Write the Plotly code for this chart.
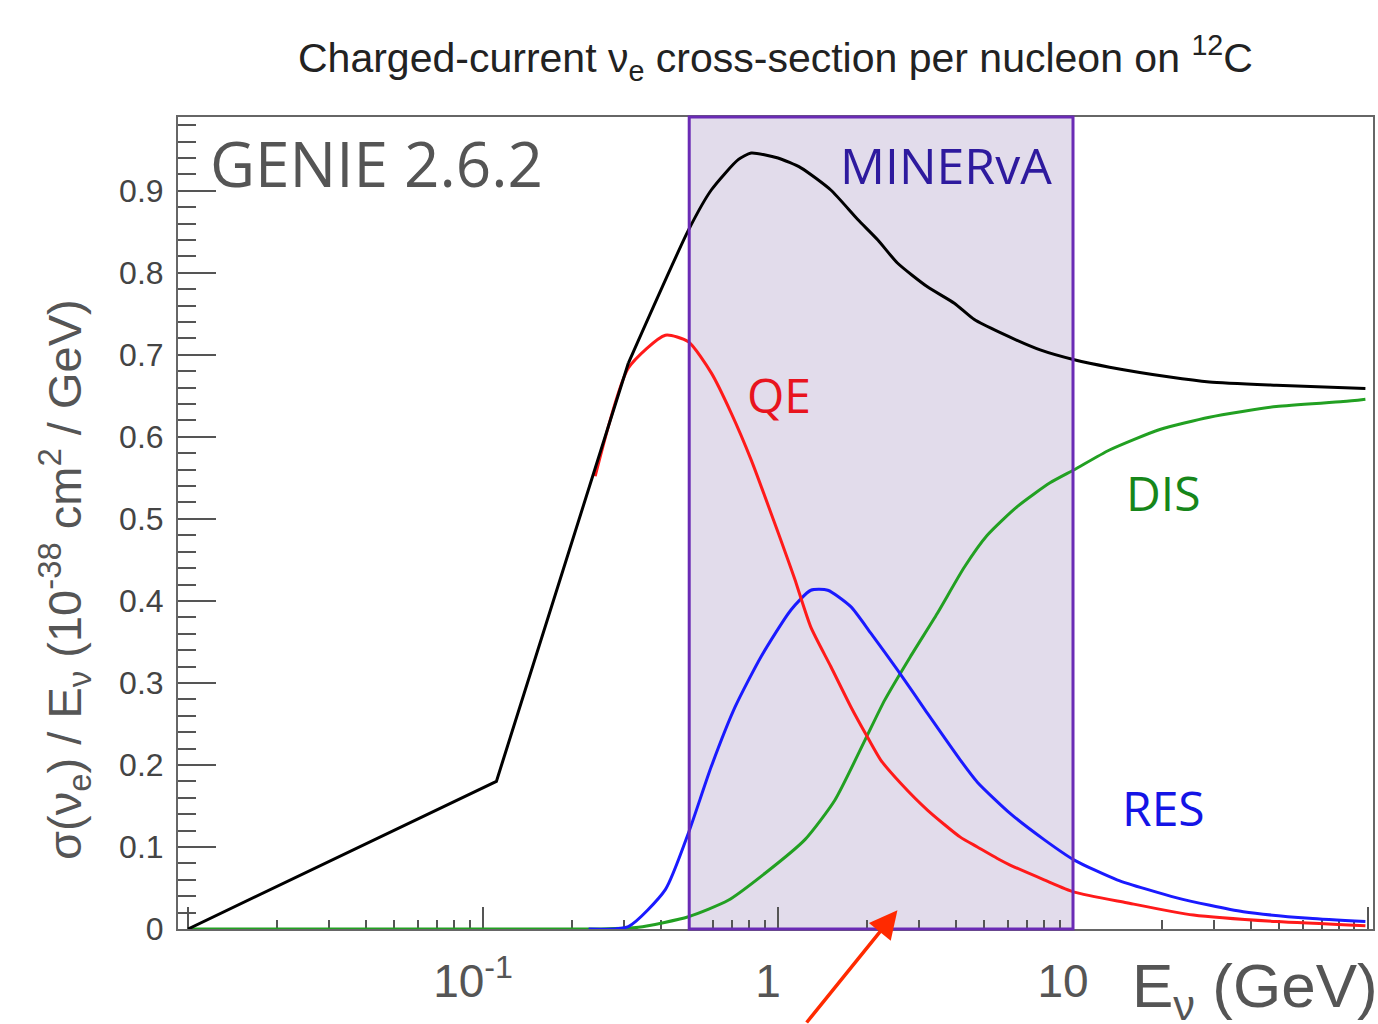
import math
import plotly.graph_objects as go

# ---------------- data ----------------
E_total = [0.01, 0.111, 0.311, 0.497, 0.594, 0.733, 0.811, 1.0, 1.196, 1.51, 1.864,
           2.18, 2.54, 3.21, 3.96, 4.63, 5.67, 7.74, 10.1, 13.3, 21.3, 29.0, 48.9, 98.0]
xs_total = [0.0, 0.180, 0.690, 0.852, 0.901, 0.938, 0.946, 0.940, 0.928, 0.901, 0.865,
            0.840, 0.812, 0.783, 0.763, 0.743, 0.727, 0.706, 0.694, 0.685, 0.673, 0.667, 0.663, 0.659]

E_qe = [0.24, 0.311, 0.415, 0.497, 0.594, 0.694, 0.811, 0.947, 1.081, 1.141, 1.292, 1.51,
        1.765, 2.01, 2.23, 2.60, 3.21, 4.15, 4.74, 5.54, 6.12, 7.98, 10.1, 15.2, 25.6, 48.9, 98.0]
xs_qe = [0.552, 0.684, 0.724, 0.716, 0.678, 0.629, 0.572, 0.507, 0.450, 0.426, 0.368, 0.320,
         0.271, 0.234, 0.206, 0.178, 0.145, 0.112, 0.100, 0.086, 0.078, 0.060, 0.045, 0.032, 0.017, 0.009, 0.004]

E_res = [0.228, 0.311, 0.415, 0.497, 0.594, 0.716, 0.876, 1.106, 1.292, 1.475, 1.765, 2.06,
         2.54, 3.21, 4.15, 4.74, 6.12, 7.98, 10.1, 14.1, 22.5, 37.8, 63.2, 98.0]
xs_res = [0.0, 0.003, 0.048, 0.117, 0.198, 0.271, 0.332, 0.389, 0.413, 0.413, 0.393, 0.361,
          0.316, 0.263, 0.206, 0.179, 0.141, 0.109, 0.084, 0.060, 0.038, 0.021, 0.013, 0.009]

E_dis = [0.01, 0.25, 0.336, 0.497, 0.678, 0.904, 1.234, 1.558, 1.97, 2.30, 2.81, 3.47, 4.28,
         5.12, 6.47, 8.36, 10.1, 13.3, 19.7, 29.0, 48.9, 82.4, 98.0]
xs_dis = [0.0, 0.0, 0.002, 0.015, 0.035, 0.068, 0.109, 0.157, 0.230, 0.279, 0.332, 0.385, 0.441,
          0.480, 0.515, 0.544, 0.560, 0.584, 0.609, 0.624, 0.637, 0.643, 0.646]

minerva_range = [0.5, 10.0]
arrow_tip = [2.54, 0.023]

x_major_vals = [0.01, 0.1, 1, 10, 100]
x_major_text = [" ", "10<sup>-1</sup>", "1", "10", " "]
x_minor_vals = [k * 10.0 ** e for e in (-2, -1, 0, 1) for k in range(2, 10)]

title_text = "Charged-current \u03bd<sub>e</sub> cross-section per nucleon on <sup>12</sup>C"
ytitle_text = "\u03c3(\u03bd<sub>e</sub>) / E<sub>\u03bd</sub> (10<sup>-38</sup> cm<sup>2</sup> / GeV)"
xtitle_text = "E<sub>\u03bd</sub> (GeV)"

# ---------------- figure ----------------
fig = go.Figure()


def add_line(E, v, color, shape="spline"):
    fig.add_trace(go.Scatter(x=E, y=v, mode="lines",
                             line=dict(color=color, width=3, shape=shape, smoothing=0.6),
                             cliponaxis=False, showlegend=False, hoverinfo="skip"))


add_line(E_dis, xs_dis, "#22A022")
add_line(E_res, xs_res, "#1A1AFF")
add_line(E_qe, xs_qe, "#FF1A1A")
# total: straight low-energy segments, smooth above threshold
add_line(E_total[:3], xs_total[:3], "#000000", shape="linear")
add_line(E_total[2:], xs_total[2:], "#000000")

tickfont_x = dict(family="Liberation Sans, Arial, sans-serif", size=46, color="#555555")
tickfont_y = dict(family="Liberation Sans, Arial, sans-serif", size=32, color="#444444")

fig.update_layout(
    width=1378, height=1024,
    margin=dict(l=178, r=3, t=117, b=95),
    paper_bgcolor="white", plot_bgcolor="white",
    showlegend=False,
)
fig.update_xaxes(
    type="log", range=[-2.034, 2.017],
    showline=True, linecolor="#666666", linewidth=2, mirror=True,
    showgrid=False, zeroline=False,
    tickmode="array", tickvals=x_major_vals, ticktext=x_major_text,
    ticks="inside", ticklen=22, tickwidth=2, tickcolor="#555555",
    tickfont=tickfont_x, ticklabelstandoff=11, ticklabelshift=-10,
    minor=dict(tickmode="array", tickvals=x_minor_vals, ticks="inside",
               ticklen=9, tickwidth=2, tickcolor="#555555", showgrid=False),
    layer="below traces",
)
fig.update_yaxes(
    range=[0, 0.99],
    showline=True, linecolor="#666666", linewidth=2, mirror=True,
    showgrid=False, zeroline=False,
    tick0=0, dtick=0.1,
    ticks="inside", ticklen=38, tickwidth=2, tickcolor="#555555",
    tickfont=tickfont_y, ticklabelstandoff=6,
    minor=dict(dtick=0.02, ticks="inside", ticklen=18, tickwidth=2,
               tickcolor="#555555", showgrid=False),
    layer="below traces",
)

# MINERvA region
fig.add_shape(type="rect", xref="x", yref="paper",
              x0=minerva_range[0], x1=minerva_range[1], y0=0, y1=1,
              fillcolor="#E2DCEB", line=dict(width=0), layer="below")
fig.add_shape(type="rect", xref="x", yref="paper",
              x0=minerva_range[0], x1=minerva_range[1], y0=0, y1=1,
              fillcolor="rgba(0,0,0,0)", line=dict(color="#6A2BB5", width=3), layer="above")

label_font = "Open Sans, Lato, sans-serif"
anns = [
    dict(text="GENIE 2.6.2", x=0.025, y=0.943, xanchor="left", yanchor="middle",
         font=dict(family=label_font, size=62, color="#555555")),
    dict(text="MINERvA", x=0.733, y=0.941, xanchor="right", yanchor="middle",
         font=dict(family=label_font, size=50, color="#2E1A9E")),
    dict(text="QE", x=0.503, y=0.658, xanchor="center", yanchor="middle",
         font=dict(family=label_font, size=48, color="#E8141E")),
    dict(text="DIS", x=0.8246, y=0.537, xanchor="center", yanchor="middle",
         font=dict(family=label_font, size=48, color="#16861A")),
    dict(text="RES", x=0.8246, y=0.150, xanchor="center", yanchor="middle",
         font=dict(family=label_font, size=48, color="#1414E6")),
    dict(text=title_text, x=0.5, y=1.0727, xanchor="center", yanchor="middle",
         font=dict(family="Liberation Sans, Arial", size=41, color="#222222")),
    dict(text=ytitle_text, x=-0.0945, y=0.43, xanchor="center", yanchor="middle", textangle=-90,
         font=dict(family="Liberation Sans, Arial", size=47, color="#555555")),
    dict(text=xtitle_text, x=1.006, y=-0.075, xanchor="right", yanchor="middle",
         font=dict(family="Liberation Sans, Arial", size=62, color="#555555")),
]
for a in anns:
    fig.add_annotation(xref="paper", yref="paper", showarrow=False, **a)

fig.add_annotation(xref="x", yref="y", x=math.log10(arrow_tip[0]), y=arrow_tip[1],
                   text="", showarrow=True, ax=-92, ay=125,
                   arrowcolor="#FF2A00", arrowwidth=3.5, arrowhead=2, arrowsize=1.6)

fig.write_html("out.html")
